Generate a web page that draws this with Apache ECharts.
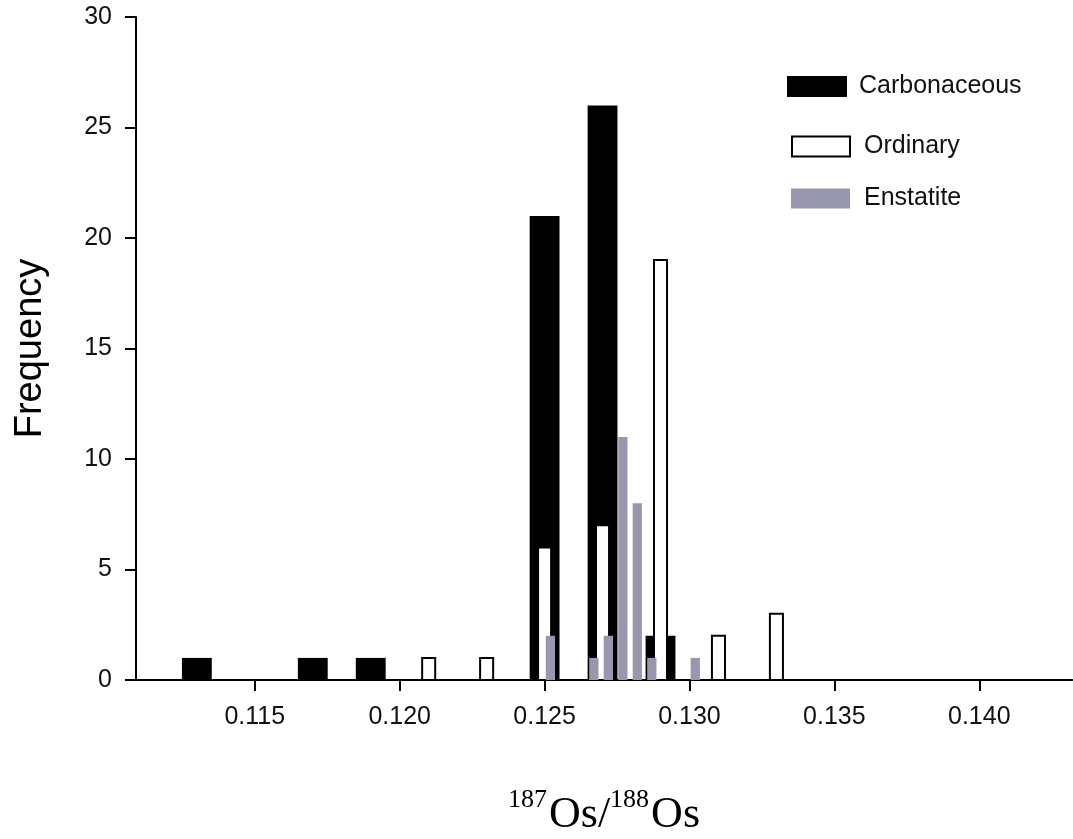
<!DOCTYPE html>
<html>
<head>
<meta charset="utf-8">
<script src="https://cdn.jsdelivr.net/npm/echarts@6/dist/echarts.min.js"></script>
<style>html,body{margin:0;padding:0;background:#fff}#c{width:1073px;height:839px}</style>
</head>
<body>
<div id="c"></div>
<script>
// ---- data ----
const carbBins = [0.113, 0.117, 0.119, 0.125, 0.127, 0.129];
const carbCounts = [1, 1, 1, 21, 26, 2];
const ordBins = [0.121, 0.123, 0.125, 0.127, 0.129, 0.131, 0.133];
const ordCounts = [1, 1, 6, 7, 19, 2, 3];
const enstBins = [0.1252, 0.1267, 0.1272, 0.1277, 0.1282, 0.1287, 0.1302];
const enstCounts = [2, 1, 2, 11, 8, 1, 1];
const xTickValues = [0.115, 0.120, 0.125, 0.130, 0.135, 0.140];
const seriesNames = ['Carbonaceous', 'Ordinary', 'Enstatite'];

const zip = (a, b) => a.map((v, i) => [v, b[i]]);

function barRender(widthVal) {
  return function (params, api) {
    const x = api.value(0), y = api.value(1);
    const p0 = api.coord([x - widthVal / 2, 0]);
    const p1 = api.coord([x + widthVal / 2, y]);
    return {
      type: 'rect',
      shape: { x: p0[0], y: p1[1], width: p1[0] - p0[0], height: p0[1] - p1[1] },
      style: api.style()
    };
  };
}

const FONT = '"Liberation Sans", Arial, sans-serif';
const SERIF = '"Liberation Serif", "Times New Roman", serif';
const chart = echarts.init(document.getElementById('c'), null, { renderer: 'canvas' });

function legendAt(name, left, top, w, h, itemStyle, textPadLeft) {
  return {
    data: [{ name: name, icon: 'rect', itemStyle: itemStyle }],
    left: left, top: top, orient: 'vertical', padding: 0,
    itemWidth: w, itemHeight: h, selectedMode: false,
    textStyle: { fontFamily: FONT, fontSize: 25, color: '#111', lineHeight: h, padding: [0, 0, 0, textPadLeft] }
  };
}

chart.setOption({
  animation: false,
  backgroundColor: '#fff',
  grid: { left: 136, right: 1, top: 17, bottom: 159, containLabel: false, outerBoundsMode: 'none' },
  xAxis: [{
    type: 'value', min: 0.1109, max: 0.1432, position: 'bottom',
    axisLine: { show: true, onZero: false, lineStyle: { color: '#000', width: 2 } },
    axisTick: { show: true, length: 11, customValues: xTickValues, lineStyle: { color: '#000', width: 2 } },
    axisLabel: { customValues: xTickValues, margin: 25, fontFamily: FONT, fontSize: 25, color: '#111',
      formatter: v => v.toFixed(3) },
    splitLine: { show: false },
    name: '{sup|187}{big|Os/}{sup|188}{big|Os}',
    nameLocation: 'middle', nameGap: 107,
    nameTextStyle: {
      rich: {
        sup: { fontFamily: SERIF, fontSize: 26, color: '#000', verticalAlign: 'top', lineHeight: 50, padding: [0, 2, 0, 0] },
        big: { fontFamily: SERIF, fontSize: 44, color: '#000', verticalAlign: 'bottom', lineHeight: 50 }
      }
    }
  }, {
    type: 'value', min: 0.1109, max: 0.1432, position: 'top',
    axisLine: { show: true, lineStyle: { color: '#000', width: 2 } },
    axisTick: { show: false }, axisLabel: { show: false }, splitLine: { show: false }
  }],
  yAxis: {
    type: 'value', min: 0, max: 30, interval: 5,
    axisLine: { show: true, lineStyle: { color: '#000', width: 2 } },
    axisTick: { show: true, length: 11, lineStyle: { color: '#000', width: 2 } },
    axisLabel: { margin: 24, fontFamily: FONT, fontSize: 25, color: '#111' },
    splitLine: { show: false },
    name: 'Frequency', nameLocation: 'middle', nameRotate: 90, nameGap: 86,
    nameTextStyle: { fontFamily: FONT, fontSize: 38, color: '#000' }
  },
  legend: [
    legendAt(seriesNames[0], 787, 74, 60, 21, { color: '#000' }, 7),
    legendAt(seriesNames[1], 791, 134, 58, 20, { color: '#fff', borderColor: '#000', borderWidth: 2 }, 9),
    legendAt(seriesNames[2], 791, 186, 59, 20, { color: '#9997b0' }, 9)
  ],
  series: [{
    name: seriesNames[0], type: 'custom', renderItem: barRender(0.00103),
    itemStyle: { color: '#000' }, data: zip(carbBins, carbCounts), z: 2
  }, {
    name: seriesNames[1], type: 'custom', renderItem: barRender(0.00045),
    itemStyle: { color: '#fff', borderColor: '#000', borderWidth: 2 }, data: zip(ordBins, ordCounts), z: 3
  }, {
    name: seriesNames[2], type: 'custom', renderItem: barRender(0.00032),
    itemStyle: { color: '#9997b0' }, data: zip(enstBins, enstCounts), z: 4
  }]
});
</script>
</body>
</html>
